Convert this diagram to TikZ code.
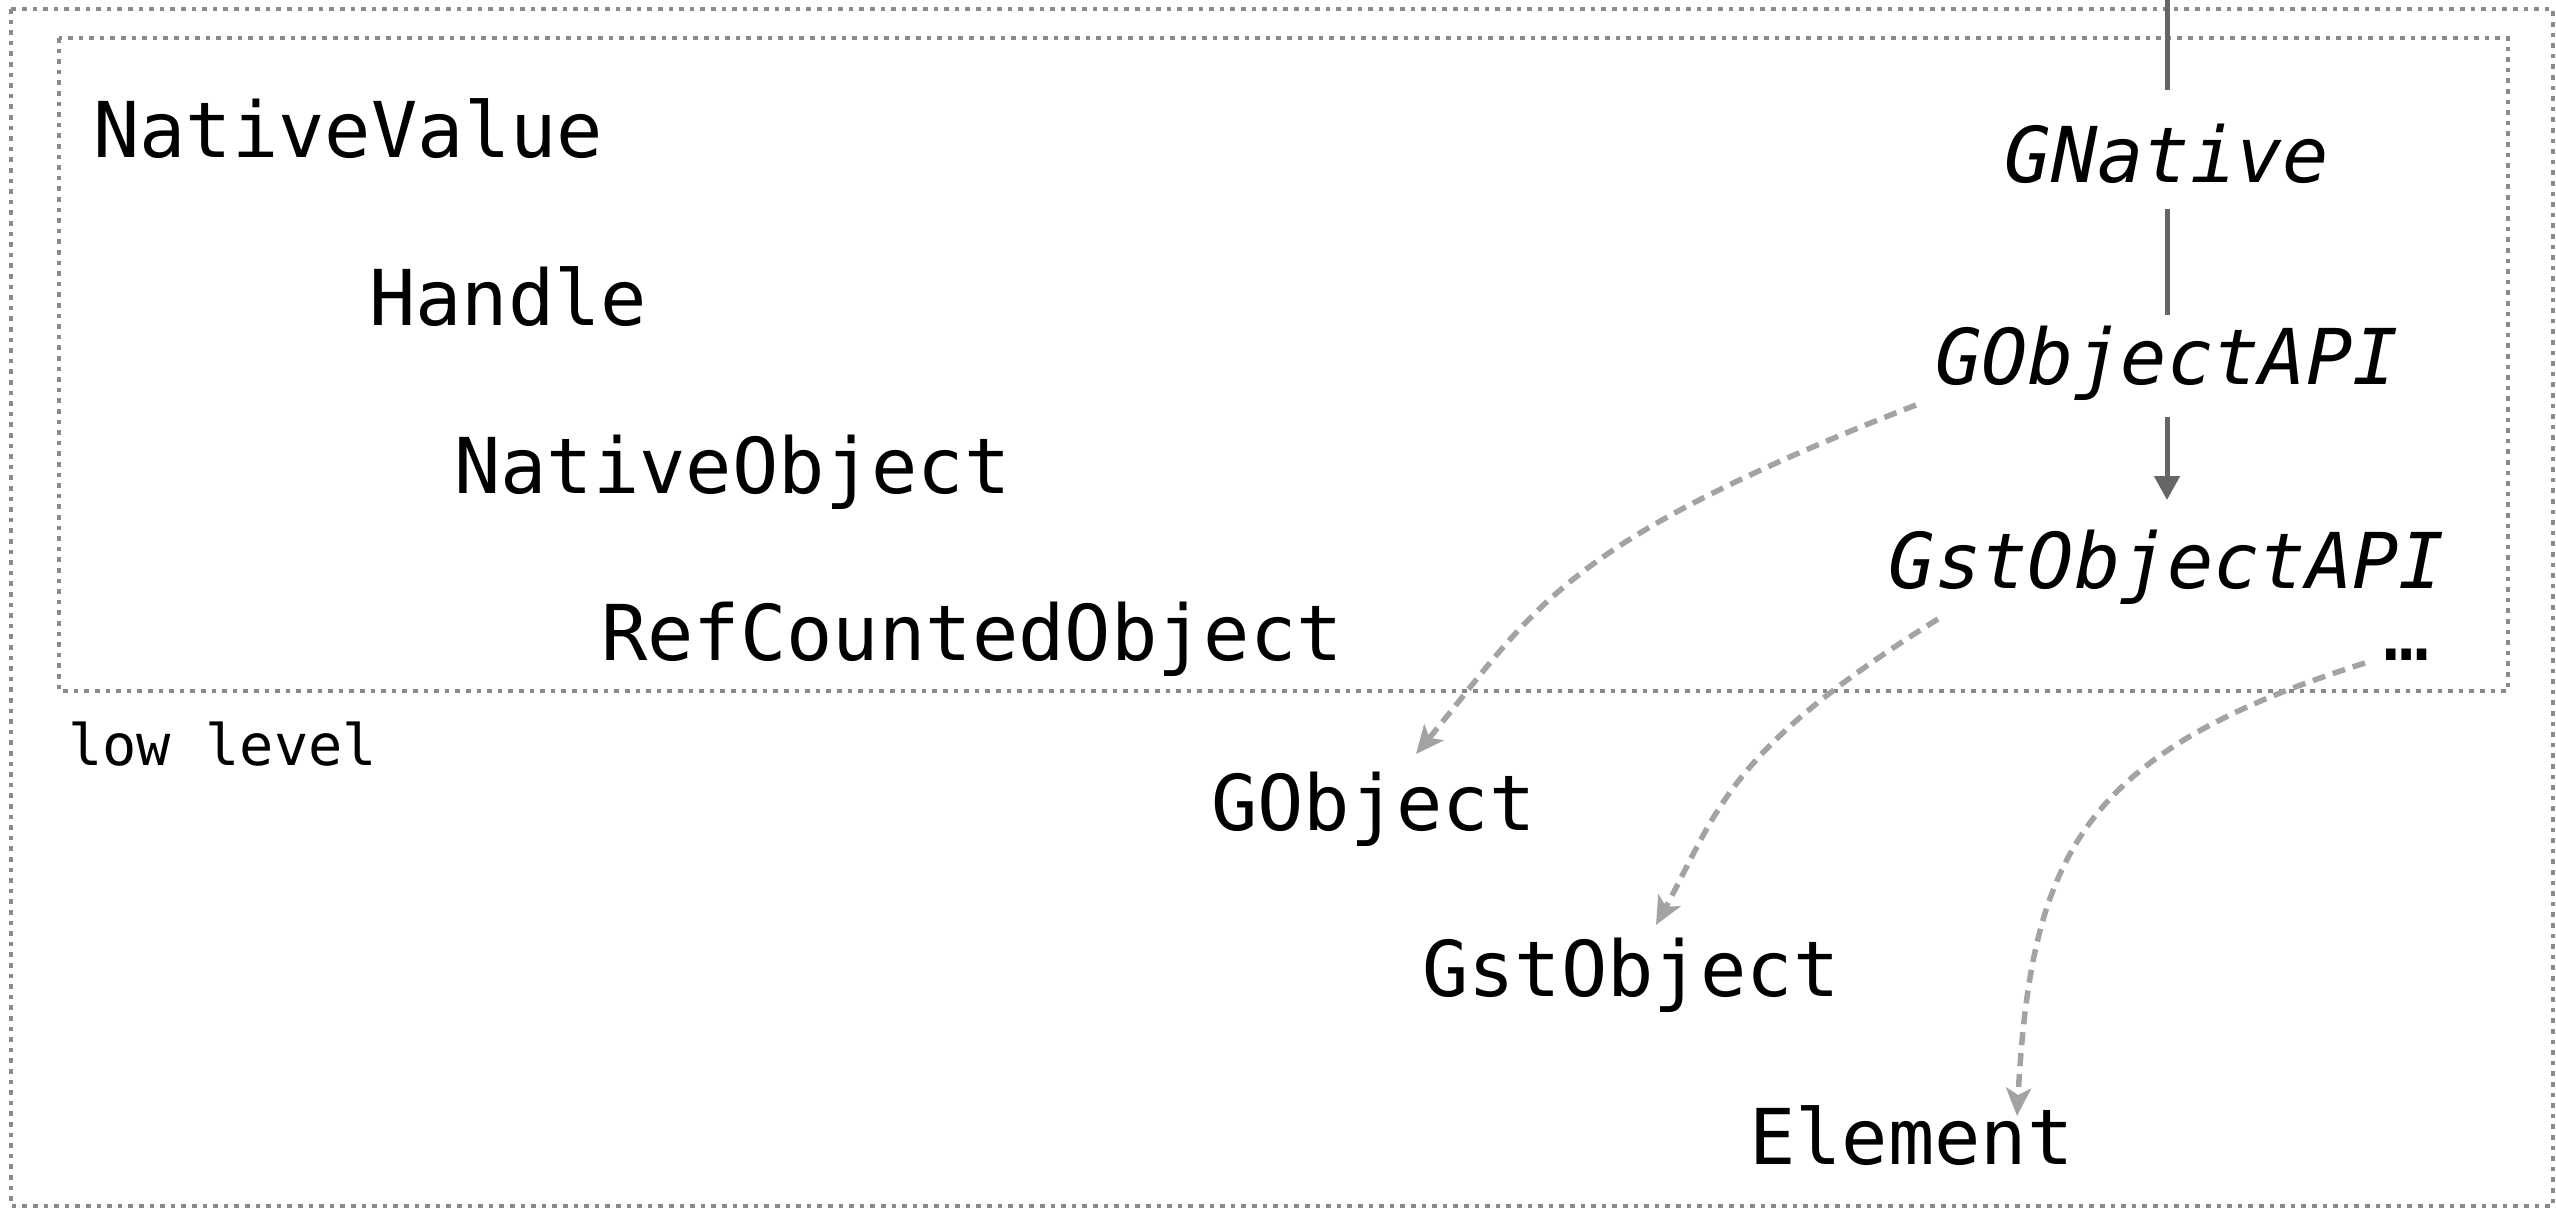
\documentclass[tikz,border=0pt]{standalone}
\usepackage{fontspec}
\setmonofont{DejaVu Sans Mono}
\usetikzlibrary{arrows.meta}
\definecolor{boxgray}{HTML}{8A8A8E}
\definecolor{darkline}{HTML}{666666}
\definecolor{lightarrow}{HTML}{A3A3A3}
\tikzset{
  lbl/.style={inner sep=0pt, font=\ttfamily\fontsize{77pt}{90pt}\selectfont},
  ilbl/.style={inner sep=0pt, font=\ttfamily\itshape\fontsize{77pt}{90pt}\selectfont},
  small/.style={inner sep=0pt, font=\ttfamily\fontsize{57pt}{68pt}\selectfont},
  dotbox/.style={draw=boxgray, line width=4.6pt, dash pattern=on 4.6pt off 6pt},
  mainline/.style={draw=darkline, line width=5pt},
  mainarrow/.style={mainline, -{Triangle[length=24pt,width=25pt]}},
  softarrow/.style={draw=lightarrow, line width=5.5pt, dash pattern=on 13pt off 8pt,
    -{Stealth[length=28pt,width=25pt,inset=7pt]}}
}
\begin{document}
\begin{tikzpicture}[x=1pt,y=-1pt]
\useasboundingbox (0,0) rectangle (2556,1210);
\fill[white] (0,0) rectangle (2556,1210);
% frames
\draw[dotbox] (11,9) rectangle (2553,1206);
\draw[dotbox] (59,38) rectangle (2508,691);
% low-level labels
\node[lbl, anchor=base west] (nv) at (93,157) {NativeValue};
\node[lbl, anchor=base west] (hd) at (369,325) {Handle};
\node[lbl, anchor=base west] (no) at (454,493) {NativeObject};
\node[lbl, anchor=base west] (rc) at (601,660) {RefCountedObject};
\node[small, anchor=base west] (ll) at (68,765) {low level};
% API chain
\coordinate (topin) at (2167,0);
\node[ilbl, anchor=base] (gn) at (2167,182) {GNative};
\node[ilbl, anchor=base] (goapi) at (2167,384) {GObjectAPI};
\node[ilbl, anchor=base] (gstapi) at (2167,588) {GstObjectAPI};
\node[lbl, anchor=base west] (dots) at (2383,660) {…};
% classes
\node[lbl, anchor=base west] (go) at (1211,830) {GObject};
\node[lbl, anchor=base west] (gst) at (1422,996) {GstObject};
\node[lbl, anchor=base west] (el) at (1749,1164) {Element};
% solid connectors
\draw[mainline] (topin) -- ([yshift=92pt]gn.base);
\draw[mainline] ([yshift=-27pt]gn.base) -- ([yshift=69pt]goapi.base);
\draw[mainarrow] ([yshift=-33pt]goapi.base) -- ([yshift=88pt]gstapi.base);
% dashed connectors
\draw[softarrow] ([shift={(-251,21)}]goapi.base) .. controls +(-360,140) and +(120,-145) .. ([shift={(205,-76)}]go.base west);
\draw[softarrow] ([shift={(-229,31)}]gstapi.base) .. controls +(-212,132) and +(62,-114) .. ([shift={(234,-71)}]gst.base west);
\draw[softarrow] ([shift={(-18,3)}]dots.base west) .. controls +(-285,90) and +(14,-260) .. ([shift={(268,-48)}]el.base west);
\end{tikzpicture}
\end{document}
